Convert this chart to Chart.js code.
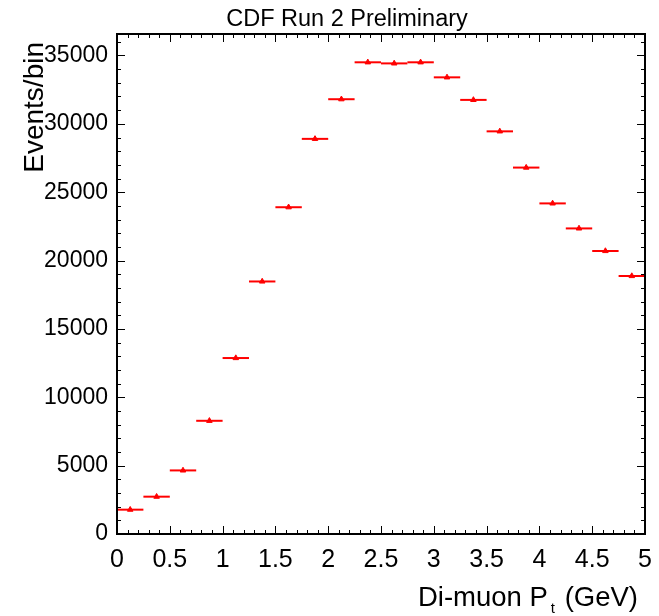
<!DOCTYPE html>
<html>
<head>
<meta charset="utf-8">
<script src="https://cdn.jsdelivr.net/npm/chart.js@4.4.0/dist/chart.umd.min.js"></script>
<style>
  body { margin: 0; background: #fff; }
  canvas { display: block; }
</style>
</head>
<body>
<canvas id="ptChart" width="659" height="616"></canvas>
<script>
// di-muon pt spectrum, 0.25 GeV bins
const binCenters = [0.125, 0.375, 0.625, 0.875, 1.125, 1.375, 1.625, 1.875, 2.125, 2.375,
                    2.625, 2.875, 3.125, 3.375, 3.625, 3.875, 4.125, 4.375, 4.625, 4.875];
const binHalfWidth = [0.125, 0.125, 0.125, 0.125, 0.125, 0.125, 0.125, 0.125, 0.125, 0.125,
                      0.125, 0.125, 0.125, 0.125, 0.125, 0.125, 0.125, 0.125, 0.125, 0.125];
const events = [1780, 2730, 4650, 8280, 12870, 18470, 23900, 28900, 31800, 34500,
                34420, 34500, 33400, 31750, 29450, 26800, 24180, 22350, 20700, 18870];
const xTicks = [0, 0.5, 1, 1.5, 2, 2.5, 3, 3.5, 4, 4.5, 5];
const yTicks = [0, 5000, 10000, 15000, 20000, 25000, 30000, 35000];

const fontFam = '"Liberation Sans", Arial, sans-serif';

const points = binCenters.map((x, i) => ({ x: x, y: events[i], dx: binHalfWidth[i] }));

const errorBars = {
  id: 'errorBars',
  beforeDatasetsDraw(chart) {
    const ctx = chart.ctx;
    const xs = chart.scales.x, ys = chart.scales.y;
    ctx.save();
    ctx.strokeStyle = '#ff0000';
    ctx.lineWidth = 2;
    points.forEach(p => {
      const y = ys.getPixelForValue(p.y);
      ctx.beginPath();
      ctx.moveTo(xs.getPixelForValue(p.x - p.dx), y);
      ctx.lineTo(xs.getPixelForValue(p.x + p.dx), y);
      ctx.stroke();
    });
    ctx.restore();
  }
};

const frame = {
  id: 'frame',
  afterDraw(chart) {
    const ctx = chart.ctx;
    const a = chart.chartArea;
    const xs = chart.scales.x, ys = chart.scales.y;
    ctx.save();
    ctx.strokeStyle = '#000';
    ctx.lineWidth = 1;
    ctx.beginPath();
    // x ticks (bottom and top, pointing inward)
    for (let k = 0; k <= 50; k++) {
      const v = k / 10;
      const len = (k % 5 === 0) ? 8 : 4;
      const px = Math.round(xs.getPixelForValue(v)) + 0.5;
      ctx.moveTo(px, a.bottom); ctx.lineTo(px, a.bottom - len);
      ctx.moveTo(px, a.top); ctx.lineTo(px, a.top + len);
    }
    // y ticks (left and right)
    for (let v = 0; v <= ys.max; v += 1000) {
      const len = (v % 5000 === 0) ? 8 : 4;
      const py = Math.round(ys.getPixelForValue(v)) + 0.5;
      ctx.moveTo(a.left, py); ctx.lineTo(a.left + len, py);
      ctx.moveTo(a.right, py); ctx.lineTo(a.right - len, py);
    }
    ctx.stroke();
    ctx.lineWidth = 2;
    ctx.strokeRect(a.left, a.top, a.right - a.left, a.bottom - a.top);

    ctx.fillStyle = '#000';
    // title
    ctx.font = '23.5px ' + fontFam;
    ctx.textAlign = 'center';
    ctx.textBaseline = 'alphabetic';
    ctx.fillText('CDF Run 2 Preliminary', 347, 26);
    // x title with subscript
    ctx.textAlign = 'left';
    ctx.font = '27.5px ' + fontFam;
    const w1 = ctx.measureText('Di-muon P').width;
    ctx.font = '15px ' + fontFam;
    const w2 = ctx.measureText('t').width;
    ctx.font = '27.5px ' + fontFam;
    const w3 = ctx.measureText(' (GeV)').width;
    let x0 = 638 - (w1 + w2 + 5 + w3);
    ctx.fillText('Di-muon P', x0, 606);
    ctx.font = '15px ' + fontFam;
    ctx.fillText('t', x0 + w1 + 3, 613);
    ctx.font = '27.5px ' + fontFam;
    ctx.fillText(' (GeV)', x0 + w1 + w2 + 5, 606);
    // y title
    ctx.translate(43, 42);
    ctx.rotate(-Math.PI / 2);
    ctx.font = '28px ' + fontFam;
    ctx.textAlign = 'right';
    ctx.fillText('Events/bin', 0, 0);
    ctx.restore();
  }
};

new Chart(document.getElementById('ptChart'), {
  type: 'scatter',
  data: {
    datasets: [{
      data: points,
      pointStyle: 'triangle',
      pointRadius: 3.2,
      backgroundColor: '#ff0000',
      borderColor: '#ff0000',
      borderWidth: 1,
      showLine: false
    }]
  },
  options: {
    responsive: false,
    animation: false,
    layout: { padding: { left: 0, top: 34, right: 14, bottom: 0 } },
    plugins: { legend: { display: false }, tooltip: { enabled: false }, title: { display: false } },
    scales: {
      x: {
        type: 'linear',
        min: 0,
        max: 5,
        grid: { display: false, drawTicks: false },
        border: { display: false },
        afterBuildTicks: s => { s.ticks = xTicks.map(v => ({ value: v })); },
        afterFit: s => { s.height = 82; s.paddingLeft = 0; s.paddingRight = 0; },
        ticks: {
          padding: 11,
          color: '#000',
          font: { family: fontFam, size: 25 },
          maxRotation: 0,
          callback: v => String(v)
        }
      },
      y: {
        type: 'linear',
        min: 0,
        max: 36570,
        grid: { display: false, drawTicks: false },
        border: { display: false },
        afterBuildTicks: s => { s.ticks = yTicks.map(v => ({ value: v })); },
        afterFit: s => { s.width = 117; s.paddingTop = 0; s.paddingBottom = 0; },
        ticks: {
          padding: 9,
          color: '#000',
          font: { family: fontFam, size: 23 },
          callback: v => String(v)
        }
      }
    }
  },
  plugins: [errorBars, frame]
});
</script>
</body>
</html>
